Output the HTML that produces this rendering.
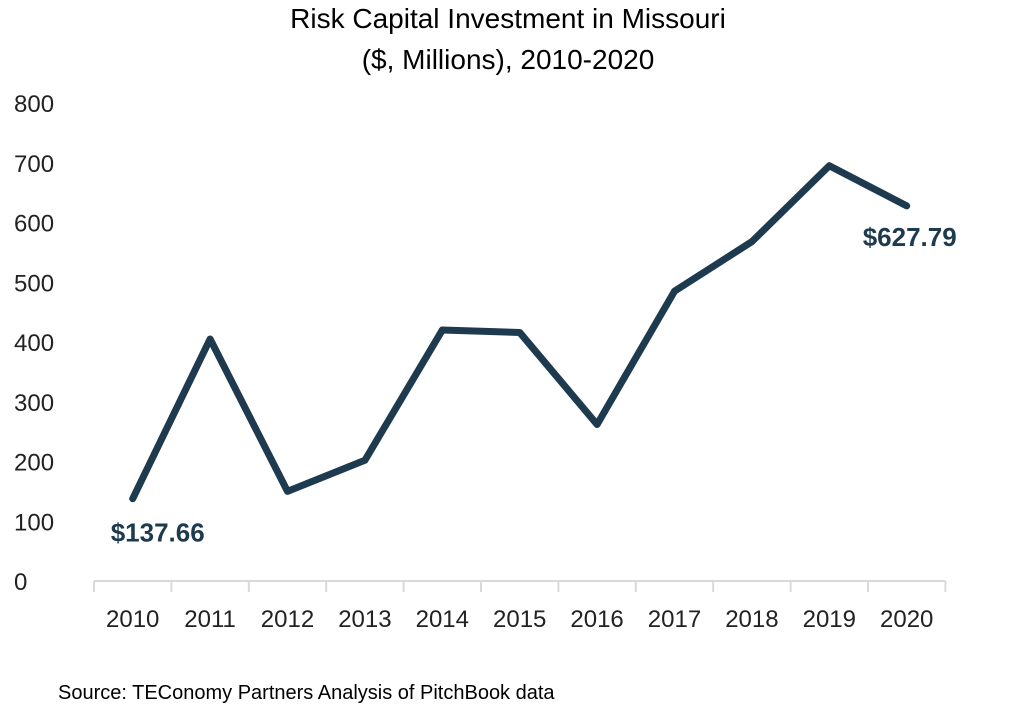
<!DOCTYPE html>
<html><head><meta charset="utf-8"><style>
body{margin:0;background:#fff;width:1025px;height:706px;overflow:hidden}
svg text{font-family:"Liberation Sans",sans-serif}
</style></head><body>
<svg id="c" width="1025" height="706">
<text x="508" y="28" text-anchor="middle" font-size="28" fill="#000">Risk Capital Investment in Missouri</text>
<text x="508" y="69" text-anchor="middle" font-size="28" fill="#000">($, Millions), 2010-2020</text>
<text x="58" y="699" font-size="20" fill="#000">Source: TEConomy Partners Analysis of PitchBook data</text>
<g id="axes"></g>
<polyline id="line" fill="none" stroke="#1e3a4f" stroke-width="7" stroke-linejoin="round" stroke-linecap="round"></polyline>
<g id="labels"></g>
</svg>
<script>
const categories=["2010","2011","2012","2013","2014","2015","2016","2017","2018","2019","2020"];
const values=[137.66,405,150,202,420,416,262,485,568,695,627.79];
const yTicks=[0,100,200,300,400,500,600,700,800];
const ns="http://www.w3.org/2000/svg";
const x0=94,step=77.4,y0=581,yPer=(581-103)/800;
const xs=i=>x0+step*(i+0.5);
const ys=v=>y0-v*yPer;
const ax=document.getElementById('axes');
function mk(t,a){const e=document.createElementNS(ns,t);for(const k in a)e.setAttribute(k,a[k]);return e;}
let l=mk('line',{x1:x0,x2:x0+step*categories.length,y1:y0,y2:y0,stroke:'#d9d9d9','stroke-width':2});


ax.appendChild(l);
for(let i=0;i<=categories.length;i++){
 const t=mk('line',{x1:x0+step*i,x2:x0+step*i,y1:y0,y2:y0+11,stroke:'#d9d9d9','stroke-width':2});
 
 
 ax.appendChild(t);
}
categories.forEach((c,i)=>{
 const t=mk('text',{x:xs(i),y:627,'text-anchor':'middle','font-size':24,fill:'#222'});
 t.textContent=c;
 
 
 ax.appendChild(t);
});
yTicks.forEach(v=>{
 const t=mk('text',{x:14,y:ys(v)+9,'font-size':24,fill:'#222'});
 t.textContent=v;
 
 
 ax.appendChild(t);
});
document.getElementById('line').setAttribute('points',values.map((v,i)=>xs(i)+','+ys(v)).join(' '));
const lb=document.getElementById('labels');
const a=mk('text',{x:xs(0)-22,y:ys(values[0])+43,'font-size':26,'font-weight':'bold',fill:'#1e3a4f'});
a.textContent='$'+values[0].toFixed(2);


lb.appendChild(a);
const n=values.length-1;
const b=mk('text',{x:xs(n)-44,y:ys(values[n])+40,'font-size':26,'font-weight':'bold',fill:'#1e3a4f'});
b.textContent='$'+values[n].toFixed(2);


lb.appendChild(b);
</script>
</body></html>
